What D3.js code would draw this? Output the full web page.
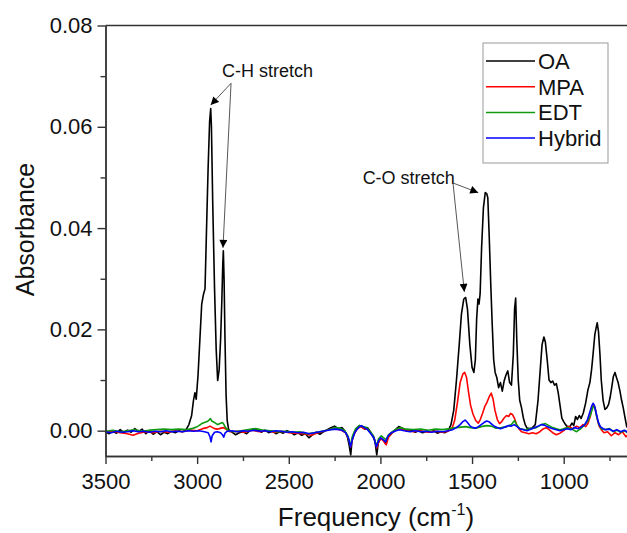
<!DOCTYPE html>
<html>
<head>
<meta charset="utf-8">
<script src="https://cdn.jsdelivr.net/npm/d3@7"></script>
<style>
  body { margin: 0; background: #fff; }
  svg { display: block; font-family: "Liberation Sans", Arial, sans-serif; }
</style>
</head>
<body>
<div id="chart"></div>
<script>
// FTIR spectra, [wavenumber cm-1, absorbance]
const oaData = [
  [3500,-0.0002],[3480,-0.0006],[3460,-0.0001],[3440,-0.0005],[3420,0.0002],[3400,-0.0004],[3380,0.0001],
  [3360,-0.0003],[3340,0.0004],[3320,-0.0002],[3300,0.0003],[3280,-0.0006],[3260,0.0000],[3240,-0.0007],
  [3220,-0.0002],[3200,-0.0008],[3180,-0.0003],[3160,-0.0006],[3140,-0.0001],[3120,-0.0004],[3100,0.0000],
  [3080,-0.0002],[3060,0.0002],[3045,0.0012],[3030,0.003],[3020,0.006],[3012,0.0075],[3005,0.0062],
  [2995,0.011],[2985,0.018],[2975,0.025],[2965,0.027],[2957,0.028],[2950,0.038],[2940,0.052],[2932,0.061],
  [2926,0.0636],[2922,0.060],[2915,0.045],[2905,0.028],[2896,0.016],[2888,0.0099],[2880,0.012],[2872,0.018],
  [2865,0.026],[2860,0.033],[2857,0.0355],[2853,0.030],[2848,0.018],[2842,0.007],[2836,0.002],[2828,0.0002],
  [2810,-0.0003],[2790,-0.0008],[2770,-0.0004],[2750,-0.0002],[2730,-0.0006],[2710,0.0001],[2690,0.0004],
  [2670,0.0002],[2650,-0.0003],[2630,0.0001],[2610,-0.0004],[2590,-0.0001],[2570,-0.0006],[2550,-0.0002],
  [2530,-0.0005],[2510,0.0000],[2490,-0.0003],[2470,-0.0008],[2450,-0.0004],[2430,-0.0009],[2410,-0.0006],
  [2390,-0.0014],[2370,-0.0008],[2350,-0.0003],[2330,-0.0007],[2310,-0.0002],[2290,0.0002],[2270,0.0006],
  [2250,0.0009],[2230,0.0004],[2210,0.0006],[2195,0.0000],[2180,-0.0012],[2170,-0.003],[2162,-0.0048],
  [2155,-0.002],[2145,-0.0008],[2130,0.0004],[2115,0.0010],[2100,0.0008],[2085,0.0003],[2070,0.0006],
  [2055,-0.0002],[2040,-0.0012],[2030,-0.002],[2020,-0.0048],[2012,-0.0025],[2000,-0.0015],[1985,-0.0018],
  [1972,-0.0026],[1960,-0.0014],[1945,-0.0008],[1930,-0.0002],[1915,0.0003],[1900,0.0008],[1885,0.0006],
  [1870,0.0002],[1850,-0.0001],[1830,0.0001],[1810,-0.0003],[1790,0.0000],[1770,-0.0004],[1750,-0.0001],
  [1730,-0.0003],[1710,0.0000],[1690,-0.0005],[1670,-0.0002],[1650,-0.0004],[1630,0.0000],[1615,0.0012],
  [1600,0.004],[1585,0.010],[1570,0.017],[1558,0.023],[1545,0.026],[1535,0.0263],[1525,0.024],[1512,0.017],
  [1500,0.0125],[1490,0.0115],[1482,0.014],[1475,0.022],[1468,0.026],[1462,0.025],[1456,0.027],[1448,0.036],
  [1438,0.044],[1428,0.047],[1420,0.0468],[1414,0.046],[1406,0.038],[1398,0.029],[1390,0.021],[1382,0.014],
  [1374,0.0115],[1365,0.0105],[1355,0.0085],[1345,0.0095],[1335,0.0078],[1325,0.0098],[1315,0.0110],
  [1305,0.0118],[1295,0.0095],[1285,0.0090],[1275,0.015],[1268,0.024],[1262,0.0262],[1256,0.018],[1248,0.010],
  [1240,0.006],[1230,0.0045],[1220,0.0025],[1210,0.0012],[1200,0.0005],[1185,0.0004],[1170,0.0006],
  [1155,0.0012],[1140,0.006],[1128,0.012],[1118,0.017],[1108,0.0185],[1100,0.0175],[1090,0.014],[1080,0.010],
  [1070,0.0095],[1060,0.0098],[1050,0.0090],[1040,0.0093],[1030,0.0075],[1020,0.0050],[1010,0.0025],
  [1000,0.0018],[990,0.0012],[980,0.0008],[966,0.0008],[955,0.0015],[945,0.0010],[935,0.0028],[925,0.0022],
  [915,0.0030],[905,0.0024],[893,0.0035],[880,0.0055],[868,0.0080],[857,0.0095],[848,0.012],[840,0.0150],
  [830,0.0190],[822,0.0205],[817,0.0213],[810,0.0195],[802,0.0150],[795,0.0100],[785,0.0060],[775,0.0042],
  [765,0.0045],[755,0.0052],[747,0.0065],[738,0.0085],[729,0.0107],[720,0.0115],[712,0.0105],[703,0.0095],
  [693,0.0078],[684,0.0060],[675,0.0045],[665,0.0025],[656,0.0008],[640,0.0002],[620,-0.0004],[600,0.0]
];

const mpaData = [
  [3500,-0.0003],[3460,-0.0001],[3420,-0.0004],[3380,-0.0006],[3350,-0.0009],[3320,-0.0005],[3280,-0.0002],
  [3240,-0.0004],[3200,-0.0001],[3160,-0.0003],[3120,0.0000],[3080,-0.0002],[3040,0.0001],[3000,0.0000],
  [2970,0.0004],[2945,0.0006],[2930,0.0009],[2920,0.0007],[2905,0.0004],[2890,0.0003],[2870,0.0005],
  [2855,0.0006],[2840,0.0002],[2820,-0.0002],[2780,-0.0001],[2740,-0.0003],[2700,0.0001],[2660,-0.0002],
  [2620,0.0000],[2580,-0.0003],[2540,-0.0001],[2500,-0.0004],[2460,-0.0005],[2420,-0.0006],[2380,-0.0009],
  [2340,-0.0004],[2300,0.0000],[2260,0.0004],[2220,0.0002],[2190,-0.0004],[2175,-0.0015],[2162,-0.0032],
  [2150,-0.0012],[2130,0.0002],[2110,0.0008],[2090,0.0004],[2070,0.0003],[2050,-0.0006],[2035,-0.0014],
  [2020,-0.0034],[2008,-0.0020],[1995,-0.0016],[1980,-0.0022],[1968,-0.0028],[1955,-0.0012],[1935,-0.0004],
  [1910,0.0002],[1890,0.0004],[1860,0.0000],[1820,-0.0002],[1780,0.0000],[1740,-0.0003],[1700,-0.0001],
  [1660,-0.0003],[1630,-0.0001],[1610,0.0004],[1595,0.0020],[1580,0.0055],[1565,0.0095],[1550,0.0112],
  [1540,0.0115],[1530,0.0105],[1520,0.0078],[1508,0.0050],[1495,0.0033],[1480,0.0020],[1466,0.0015],
  [1455,0.0022],[1442,0.0035],[1430,0.0048],[1420,0.0055],[1405,0.0068],[1395,0.0074],[1385,0.0062],
  [1375,0.0040],[1362,0.0022],[1350,0.0014],[1338,0.0018],[1325,0.0025],[1312,0.0030],[1300,0.0028],
  [1290,0.0034],[1280,0.0032],[1268,0.0024],[1255,0.0010],[1245,0.0004],[1230,-0.0002],[1210,-0.0004],
  [1190,-0.0006],[1170,-0.0004],[1150,-0.0006],[1130,-0.0002],[1110,0.0004],[1095,0.0006],[1080,0.0002],
  [1060,-0.0004],[1040,-0.0008],[1020,-0.0005],[1000,0.0000],[985,0.0006],[970,0.0008],[950,0.0004],
  [930,0.0009],[910,0.0006],[895,0.0012],[880,0.0008],[868,0.0014],[855,0.0028],[845,0.0045],[838,0.0052],
  [828,0.0044],[818,0.0025],[808,0.0010],[795,0.0002],[780,-0.0004],[760,-0.0002],[740,-0.0010],
  [720,-0.0004],[700,-0.0008],[680,-0.0002],[660,-0.0012],[640,-0.0004],[620,-0.0006],[600,-0.0002]
];

const edtData = [
  [3500,-0.0001],[3460,0.0001],[3420,-0.0002],[3380,0.0000],[3340,0.0002],[3300,-0.0001],[3260,0.0001],
  [3220,0.0002],[3180,0.0003],[3140,0.0002],[3100,0.0003],[3060,0.0002],[3030,0.0004],[3005,0.0007],
  [2990,0.0010],[2975,0.0014],[2960,0.0016],[2945,0.0018],[2935,0.0021],[2928,0.0024],[2920,0.0019],
  [2910,0.0017],[2900,0.0015],[2888,0.0012],[2875,0.0014],[2862,0.0016],[2855,0.0013],[2845,0.0006],
  [2832,0.0001],[2800,-0.0002],[2760,0.0000],[2720,0.0002],[2680,0.0004],[2640,0.0001],[2600,0.0000],
  [2560,-0.0002],[2520,-0.0001],[2480,-0.0003],[2440,-0.0002],[2400,-0.0006],[2360,-0.0004],[2320,-0.0001],
  [2280,0.0002],[2250,0.0006],[2220,0.0005],[2195,0.0000],[2178,-0.0010],[2164,-0.0030],[2152,-0.0010],
  [2135,0.0004],[2115,0.0010],[2095,0.0008],[2075,0.0006],[2055,-0.0002],[2038,-0.0010],[2022,-0.0030],
  [2010,-0.0016],[1995,-0.0010],[1982,-0.0014],[1970,-0.0018],[1955,-0.0008],[1935,-0.0002],[1910,0.0004],
  [1890,0.0006],[1860,0.0003],[1820,0.0002],[1780,0.0003],[1740,0.0001],[1700,0.0003],[1660,0.0002],
  [1620,0.0004],[1590,0.0006],[1560,0.0007],[1535,0.0008],[1510,0.0006],[1480,0.0005],[1450,0.0008],
  [1420,0.0010],[1395,0.0009],[1370,0.0005],[1340,0.0006],[1310,0.0008],[1285,0.0012],[1268,0.0020],
  [1258,0.0012],[1240,0.0004],[1210,0.0002],[1180,0.0004],[1150,0.0006],[1120,0.0012],[1100,0.0014],
  [1080,0.0010],[1060,0.0006],[1040,0.0004],[1020,0.0002],[1000,0.0004],[975,0.0006],[950,0.0002],
  [930,-0.0002],[910,0.0003],[890,0.0010],[870,0.0018],[855,0.0030],[845,0.0042],[838,0.0048],[830,0.0044],
  [820,0.0028],[808,0.0012],[795,0.0004],[775,0.0002],[750,0.0004],[730,-0.0002],[710,0.0001],[690,-0.0003],
  [670,0.0000],[650,-0.0004],[630,-0.0001],[600,-0.0003]
];

const hybridData = [
  [3500,-0.0002],[3470,-0.0004],[3440,-0.0001],[3410,-0.0003],[3380,-0.0002],[3350,0.0000],[3320,-0.0002],
  [3290,-0.0001],[3260,-0.0003],[3230,-0.0001],[3200,-0.0002],[3170,0.0000],[3140,-0.0002],[3110,-0.0001],
  [3080,-0.0002],[3050,0.0000],[3020,-0.0001],[2990,0.0000],[2960,-0.0002],[2940,-0.0004],[2930,-0.0012],
  [2924,-0.0022],[2918,-0.0010],[2905,-0.0003],[2890,-0.0002],[2872,-0.0004],[2862,-0.0008],[2855,-0.0013],
  [2848,-0.0005],[2835,-0.0001],[2810,0.0000],[2780,-0.0002],[2750,0.0000],[2720,-0.0001],[2690,0.0001],
  [2660,-0.0001],[2630,0.0000],[2600,-0.0002],[2570,0.0000],[2540,-0.0001],[2510,-0.0003],[2480,-0.0002],
  [2450,-0.0004],[2420,-0.0003],[2390,-0.0006],[2360,-0.0004],[2330,-0.0002],[2300,0.0000],[2270,0.0002],
  [2240,0.0003],[2210,0.0001],[2190,-0.0004],[2175,-0.0014],[2163,-0.0032],[2152,-0.0016],[2138,-0.0002],
  [2120,0.0006],[2104,0.0010],[2088,0.0006],[2070,0.0002],[2052,-0.0006],[2036,-0.0014],[2022,-0.0032],
  [2010,-0.0020],[1998,-0.0014],[1984,-0.0018],[1972,-0.0022],[1958,-0.0010],[1940,-0.0004],[1915,0.0000],
  [1895,0.0002],[1870,0.0000],[1840,-0.0002],[1810,0.0000],[1780,-0.0002],[1750,-0.0001],[1720,-0.0003],
  [1690,-0.0001],[1660,-0.0002],[1630,0.0000],[1605,0.0002],[1585,0.0006],[1565,0.0012],[1550,0.0018],
  [1538,0.0021],[1525,0.0016],[1510,0.0009],[1495,0.0006],[1480,0.0005],[1465,0.0008],[1450,0.0012],
  [1435,0.0016],[1420,0.0019],[1405,0.0017],[1390,0.0012],[1375,0.0008],[1360,0.0006],[1345,0.0004],
  [1330,0.0006],[1315,0.0008],[1300,0.0010],[1285,0.0009],[1270,0.0012],[1258,0.0009],[1240,0.0004],
  [1220,0.0002],[1200,0.0000],[1180,0.0003],[1160,0.0006],[1140,0.0009],[1120,0.0012],[1105,0.0011],
  [1090,0.0008],[1075,0.0006],[1060,0.0004],[1040,0.0002],[1020,0.0000],[1000,0.0002],[980,0.0004],
  [960,0.0002],[940,0.0006],[920,0.0004],[900,0.0008],[885,0.0012],[870,0.0022],[858,0.0036],[848,0.0048],
  [840,0.0054],[832,0.0050],[822,0.0034],[812,0.0018],[800,0.0008],[785,0.0004],[770,0.0002],[750,0.0003],
  [730,-0.0001],[710,0.0002],[690,-0.0002],[670,0.0001],[650,-0.0003],[630,0.0000],[600,-0.0002]
];

const seriesNames = ["OA", "MPA", "EDT", "Hybrid"];
const seriesColors = ["#000000", "#ff0000", "#109a10", "#0000ff"];
const xMajorTicks = [3500, 3000, 2500, 2000, 1500, 1000];
const xMinorTicks = [3250, 2750, 2250, 1750, 1250, 750];
const yMajorTicks = [0, 0.02, 0.04, 0.06, 0.08];
const yMinorTicks = [0.01, 0.03, 0.05, 0.07];

// annotation: label anchor, arrow start, arrow targets (data coords)
const annoLabels = ["C-H stretch", "C-O stretch"];
const annoText = [[2864, 0.0698], [2097, 0.0488]];
const annoFrom = [[2815, 0.0686], [1604, 0.0489]];
const annoTo = [[[2926, 0.0643], [2859, 0.0361]], [[1466, 0.0470], [1542, 0.0274]]];

const W = 627, H = 533;
const x = d3.scaleLinear().domain([3500, 600]).range([105.5, 637]);
const y = d3.scaleLinear().domain([-0.005, 0.08]).range([456, 25.5]);

const svg = d3.select("#chart").append("svg")
    .attr("width", W)
    .attr("height", H);

svg.append("defs").append("marker")
    .attr("id", "arrow")
    .attr("viewBox", "0 0 10 10")
    .attr("refX", 10).attr("refY", 5)
    .attr("markerWidth", 10).attr("markerHeight", 8)
    .attr("markerUnits", "userSpaceOnUse")
    .attr("orient", "auto")
    .append("path")
    .attr("d", "M0,0 L10,5 L0,10 z")
    .attr("fill", "#000");

// series
const line = d3.line().x(d => x(d[0])).y(d => y(d[1]));
[oaData, mpaData, edtData, hybridData].forEach((s, i) => {
    svg.append("path")
        .datum(s)
        .attr("fill", "none")
        .attr("stroke", seriesColors[i])
        .attr("stroke-width", 1.6)
        .attr("stroke-linejoin", "round")
        .attr("d", line);
});

// axes
const axisStyle = g => {
    g.selectAll(".domain, line").attr("stroke", "#333").attr("stroke-width", 1.4);
    g.selectAll("text").attr("fill", "#111").style("font-size", "22px")
        .style("font-family", "'Liberation Sans', Arial, sans-serif");
};

svg.append("g")
    .attr("transform", "translate(0," + y.range()[0] + ")")
    .call(d3.axisBottom(x).tickValues(xMajorTicks).tickFormat(d3.format("d"))
        .tickSize(8).tickSizeOuter(0).tickPadding(9))
    .call(axisStyle);
svg.append("g")
    .attr("transform", "translate(0," + y.range()[0] + ")")
    .call(d3.axisBottom(x).tickValues(xMinorTicks).tickFormat("").tickSize(5).tickSizeOuter(0))
    .call(axisStyle);

svg.append("g")
    .attr("transform", "translate(" + x.range()[0] + ",0)")
    .call(d3.axisLeft(y).tickValues(yMajorTicks).tickFormat(d3.format(".2f"))
        .tickSize(8).tickSizeOuter(0).tickPadding(5))
    .call(axisStyle);
svg.append("g")
    .attr("transform", "translate(" + x.range()[0] + ",0)")
    .call(d3.axisLeft(y).tickValues(yMinorTicks).tickFormat("").tickSize(5).tickSizeOuter(0))
    .call(axisStyle);

// top and right frame
svg.append("path")
    .attr("d", "M" + x.range()[0] + "," + y.range()[1] + "H" + x.range()[1] + "V" + y.range()[0])
    .attr("fill", "none")
    .attr("stroke", "#333")
    .attr("stroke-width", 1.4);

// axis titles
const xt = svg.append("text")
    .attr("x", 376).attr("y", 526)
    .attr("text-anchor", "middle")
    .style("font-size", "26px")
    .attr("fill", "#111");
xt.append("tspan").text("Frequency (cm");
xt.append("tspan").attr("dy", -11).style("font-size", "16px").text("-1");
xt.append("tspan").attr("dy", 11).text(")");

svg.append("text")
    .attr("transform", "translate(34,229.5) rotate(-90)")
    .attr("text-anchor", "middle")
    .style("font-size", "25px")
    .attr("fill", "#111")
    .text("Absorbance");

// annotations
annoLabels.forEach((lab, i) => {
    svg.append("text")
        .attr("x", x(annoText[i][0]))
        .attr("y", y(annoText[i][1]))
        .style("font-size", "18px")
        .attr("fill", "#111")
        .text(lab);
    annoTo[i].forEach(t => {
        svg.append("line")
            .attr("x1", x(annoFrom[i][0])).attr("y1", y(annoFrom[i][1]))
            .attr("x2", x(t[0])).attr("y2", y(t[1]))
            .attr("stroke", "#444")
            .attr("stroke-width", 0.9)
            .attr("marker-end", "url(#arrow)");
    });
});

// legend
const lg = svg.append("g").attr("transform", "translate(483,43)");
lg.append("rect")
    .attr("width", 125).attr("height", 120)
    .attr("fill", "#fff")
    .attr("stroke", "#999")
    .attr("stroke-width", 1);
seriesNames.forEach((n, i) => {
    const ly = 18 + i * 25.7;
    lg.append("line")
        .attr("x1", 3).attr("x2", 52)
        .attr("y1", ly).attr("y2", ly)
        .attr("stroke", seriesColors[i])
        .attr("stroke-width", 1.5);
    lg.append("text")
        .attr("x", 55).attr("y", ly)
        .attr("dy", "0.36em")
        .style("font-size", "22px")
        .attr("fill", "#111")
        .text(n);
});
</script>
</body>
</html>
